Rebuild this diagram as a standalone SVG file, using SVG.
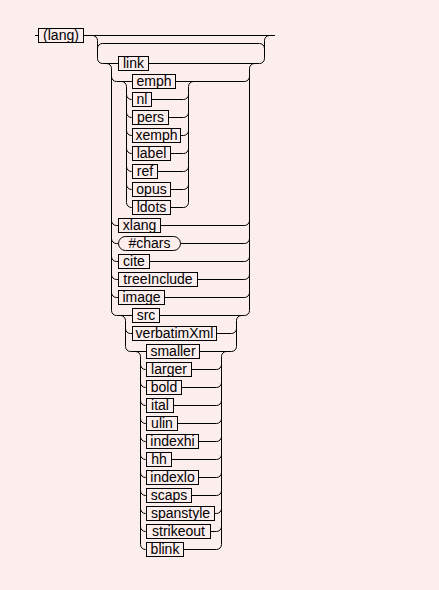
<svg xmlns="http://www.w3.org/2000/svg" width="439" height="590" viewBox="0 0 439 590">
<style>
.bg{fill:#fdeeee}
.box{fill:#fdeeee;stroke:#000;stroke-width:1}
.t{font-family:"Liberation Sans",Arial,sans-serif;font-size:14px;fill:#000;text-anchor:middle}
.c{fill:none;stroke:#000;stroke-width:1}
</style>
<rect class="bg" x="0" y="0" width="439" height="590"/>
<g id="connectors" class="c">
<path d="M35,35.5 H38.5 M83.5,35.5 H275"/>
<path d="M92.5,35.5 A5,5 0 0 1 97.5,40.5 V58.5 A5,5 0 0 0 102.5,63.5 H118.5"/>
<path d="M97.5,48.5 A5,5 0 0 1 102.5,43.5 H259.5 A5,5 0 0 1 264.5,48.5"/>
<path d="M148.5,63.5 H259.5 A5,5 0 0 0 264.5,58.5 V40.5 A5,5 0 0 1 269.5,35.5"/>
<path d="M106.5,63.5 A5,5 0 0 1 111.5,68.5 V310.5 A5,5 0 0 0 116.5,315.5 H132.5"/>
<path d="M111.5,76.5 A5,5 0 0 0 116.5,81.5 H132.5"/>
<path d="M111.5,220.5 A5,5 0 0 0 116.5,225.5 H118.5"/>
<path d="M111.5,238.5 A5,5 0 0 0 116.5,243.5 H118.5"/>
<path d="M111.5,256.5 A5,5 0 0 0 116.5,261.5 H118.5"/>
<path d="M111.5,274.5 A5,5 0 0 0 116.5,279.5 H118.5"/>
<path d="M111.5,292.5 A5,5 0 0 0 116.5,297.5 H118.5"/>
<path d="M175.5,81.5 H244.5 A5,5 0 0 0 249.5,76.5"/>
<path d="M160.5,225.5 H244.5 A5,5 0 0 0 249.5,220.5"/>
<path d="M180.5,243.5 H244.5 A5,5 0 0 0 249.5,238.5"/>
<path d="M149.5,261.5 H244.5 A5,5 0 0 0 249.5,256.5"/>
<path d="M197.5,279.5 H244.5 A5,5 0 0 0 249.5,274.5"/>
<path d="M164.5,297.5 H244.5 A5,5 0 0 0 249.5,292.5"/>
<path d="M159.5,315.5 H244.5 A5,5 0 0 0 249.5,310.5 V68.5 A5,5 0 0 1 254.5,63.5"/>
<path d="M121.5,81.5 A5,5 0 0 1 126.5,86.5 V202.5 A5,5 0 0 0 131.5,207.5 H132.5"/>
<path d="M126.5,94.5 A5,5 0 0 0 131.5,99.5 H132.5 M126.5,112.5 A5,5 0 0 0 131.5,117.5 H132.5 M126.5,130.5 A5,5 0 0 0 131.5,135.5 H132.5 M126.5,148.5 A5,5 0 0 0 131.5,153.5 H132.5 M126.5,166.5 A5,5 0 0 0 131.5,171.5 H132.5 M126.5,184.5 A5,5 0 0 0 131.5,189.5 H132.5"/>
<path d="M151.5,99.5 H183.5 A5,5 0 0 0 188.5,94.5 M168.5,117.5 H183.5 A5,5 0 0 0 188.5,112.5 M180.5,135.5 H183.5 A5,5 0 0 0 188.5,130.5 M170.5,153.5 H183.5 A5,5 0 0 0 188.5,148.5 M157.5,171.5 H183.5 A5,5 0 0 0 188.5,166.5 M170.5,189.5 H183.5 A5,5 0 0 0 188.5,184.5 M170.5,207.5 H183.5 A5,5 0 0 0 188.5,202.5 V86.5 A5,5 0 0 1 193.5,81.5"/>
<path d="M120.5,315.5 A5,5 0 0 1 125.5,320.5 V346.5 A5,5 0 0 0 130.5,351.5 H146.5 M125.5,328.5 A5,5 0 0 0 130.5,333.5 H132.5"/>
<path d="M216.5,333.5 H231.5 A5,5 0 0 0 236.5,328.5 M199.5,351.5 H231.5 A5,5 0 0 0 236.5,346.5 V320.5 A5,5 0 0 1 241.5,315.5"/>
<path d="M135.5,351.5 A5,5 0 0 1 140.5,356.5 V544.5 A5,5 0 0 0 145.5,549.5 H146.5 M140.5,364.5 A5,5 0 0 0 145.5,369.5 H146.5 M140.5,382.5 A5,5 0 0 0 145.5,387.5 H146.5 M140.5,400.5 A5,5 0 0 0 145.5,405.5 H146.5 M140.5,418.5 A5,5 0 0 0 145.5,423.5 H146.5 M140.5,436.5 A5,5 0 0 0 145.5,441.5 H146.5 M140.5,454.5 A5,5 0 0 0 145.5,459.5 H146.5 M140.5,472.5 A5,5 0 0 0 145.5,477.5 H146.5 M140.5,490.5 A5,5 0 0 0 145.5,495.5 H146.5 M140.5,508.5 A5,5 0 0 0 145.5,513.5 H146.5 M140.5,526.5 A5,5 0 0 0 145.5,531.5 H146.5"/>
<path d="M191.5,369.5 H216.5 A5,5 0 0 0 221.5,364.5 M181.5,387.5 H216.5 A5,5 0 0 0 221.5,382.5 M173.5,405.5 H216.5 A5,5 0 0 0 221.5,400.5 M177.5,423.5 H216.5 A5,5 0 0 0 221.5,418.5 M198.5,441.5 H216.5 A5,5 0 0 0 221.5,436.5 M171.5,459.5 H216.5 A5,5 0 0 0 221.5,454.5 M198.5,477.5 H216.5 A5,5 0 0 0 221.5,472.5 M191.5,495.5 H216.5 A5,5 0 0 0 221.5,490.5 M214.5,513.5 H216.5 A5,5 0 0 0 221.5,508.5 M210.5,531.5 H216.5 A5,5 0 0 0 221.5,526.5 M183.5,549.5 H216.5 A5,5 0 0 0 221.5,544.5 V356.5 A5,5 0 0 1 226.5,351.5"/>
</g>
<g id="n-lang"><rect class="box" x="38.5" y="28.5" width="45" height="14"/><text class="t" x="61" y="40">(lang)</text></g>
<g id="n-link"><rect class="box" x="118.5" y="56.5" width="30" height="14"/><text class="t" x="133.5" y="68">link</text></g>
<g id="n-emph"><rect class="box" x="132.5" y="74.5" width="43" height="14"/><text class="t" x="154" y="86">emph</text></g>
<g id="n-nl"><rect class="box" x="132.5" y="92.5" width="19" height="14"/><text class="t" x="142" y="104">nl</text></g>
<g id="n-pers"><rect class="box" x="132.5" y="110.5" width="36" height="14"/><text class="t" x="150.5" y="122">pers</text></g>
<g id="n-xemph"><rect class="box" x="132.5" y="128.5" width="48" height="14"/><text class="t" x="156.5" y="140">xemph</text></g>
<g id="n-label"><rect class="box" x="132.5" y="146.5" width="38" height="14"/><text class="t" x="151.5" y="158">label</text></g>
<g id="n-ref"><rect class="box" x="132.5" y="164.5" width="25" height="14"/><text class="t" x="145" y="176">ref</text></g>
<g id="n-opus"><rect class="box" x="132.5" y="182.5" width="38" height="14"/><text class="t" x="151.5" y="194">opus</text></g>
<g id="n-ldots"><rect class="box" x="132.5" y="200.5" width="38" height="14"/><text class="t" x="151.5" y="212">ldots</text></g>
<g id="n-xlang"><rect class="box" x="118.5" y="218.5" width="42" height="14"/><text class="t" x="139.5" y="230">xlang</text></g>
<g id="n-chars"><rect class="box" x="118.5" y="236.5" width="62" height="14" rx="7" ry="7"/><text class="t" x="149.5" y="248">#chars</text></g>
<g id="n-cite"><rect class="box" x="118.5" y="254.5" width="31" height="14"/><text class="t" x="134" y="266">cite</text></g>
<g id="n-treeInclude"><rect class="box" x="118.5" y="272.5" width="79" height="14"/><text class="t" x="158" y="284">treeInclude</text></g>
<g id="n-image"><rect class="box" x="118.5" y="290.5" width="46" height="14"/><text class="t" x="141.5" y="302">image</text></g>
<g id="n-src"><rect class="box" x="132.5" y="308.5" width="27" height="14"/><text class="t" x="146" y="320">src</text></g>
<g id="n-verbatimXml"><rect class="box" x="132.5" y="326.5" width="84" height="14"/><text class="t" x="174.5" y="338">verbatimXml</text></g>
<g id="n-smaller"><rect class="box" x="146.5" y="344.5" width="53" height="14"/><text class="t" x="173" y="356">smaller</text></g>
<g id="n-larger"><rect class="box" x="146.5" y="362.5" width="45" height="14"/><text class="t" x="169" y="374">larger</text></g>
<g id="n-bold"><rect class="box" x="146.5" y="380.5" width="35" height="14"/><text class="t" x="164" y="392">bold</text></g>
<g id="n-ital"><rect class="box" x="146.5" y="398.5" width="27" height="14"/><text class="t" x="160" y="410">ital</text></g>
<g id="n-ulin"><rect class="box" x="146.5" y="416.5" width="31" height="14"/><text class="t" x="162" y="428">ulin</text></g>
<g id="n-indexhi"><rect class="box" x="146.5" y="434.5" width="52" height="14"/><text class="t" x="172.5" y="446">indexhi</text></g>
<g id="n-hh"><rect class="box" x="146.5" y="452.5" width="25" height="14"/><text class="t" x="159" y="464">hh</text></g>
<g id="n-indexlo"><rect class="box" x="146.5" y="470.5" width="52" height="14"/><text class="t" x="172.5" y="482">indexlo</text></g>
<g id="n-scaps"><rect class="box" x="146.5" y="488.5" width="45" height="14"/><text class="t" x="169" y="500">scaps</text></g>
<g id="n-spanstyle"><rect class="box" x="146.5" y="506.5" width="68" height="14"/><text class="t" x="180.5" y="518">spanstyle</text></g>
<g id="n-strikeout"><rect class="box" x="146.5" y="524.5" width="64" height="14"/><text class="t" x="178.5" y="536">strikeout</text></g>
<g id="n-blink"><rect class="box" x="146.5" y="542.5" width="37" height="14"/><text class="t" x="165" y="554">blink</text></g>
</svg>
